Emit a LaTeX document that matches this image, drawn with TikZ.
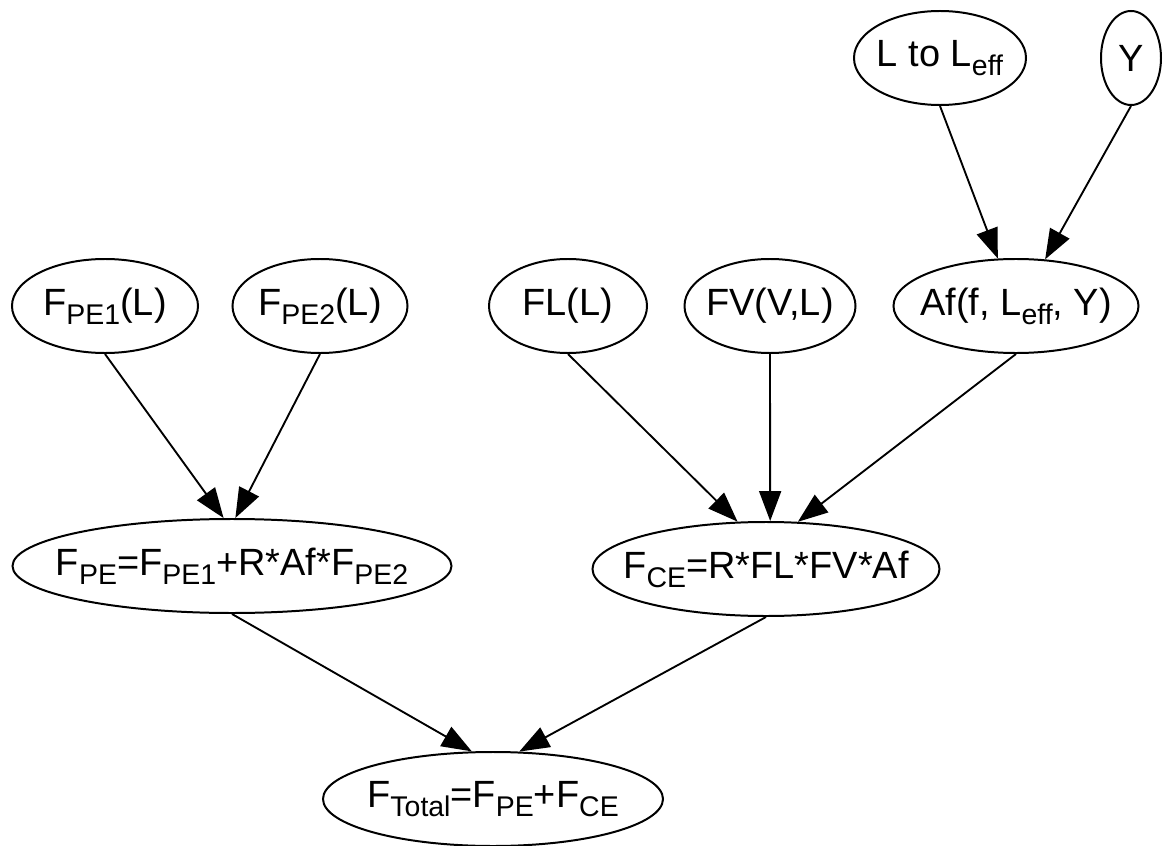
\documentclass[tikz,border=0pt]{standalone}
\usepackage{fontspec}
\setmainfont{Liberation Sans}
\usetikzlibrary{arrows.meta,shapes.geometric}

\newcommand{\dn}[1]{\raisebox{-0.24em}{\fontsize{24.3pt}{26pt}\selectfont #1}}

\begin{document}
\begin{tikzpicture}[x=0.03cm,y=-0.03cm,
  blob/.style={draw,ellipse,line width=1.7pt,inner xsep=-1.5cm,inner ysep=0pt,
    minimum height=2.82cm,font=\fontsize{32.4pt}{38pt}\selectfont},
  link/.style={line width=1.6pt,-{Triangle[length=0.9cm,width=0.66cm]}}]
  \path[fill=white,use as bounding box] (0,0) rectangle (1163,846);
  % top inputs
  \node[blob,minimum width=5.16cm] (leff) at (940,58) {L to L\dn{eff}};
  \node[blob,minimum width=1.8cm] (yy) at (1131,58) {Y};
  % middle row
  \node[blob,minimum width=5.58cm] (pe1) at (105,306) {F\dn{PE1}(L)};
  \node[blob,minimum width=5.25cm] (pe2) at (320,306) {F\dn{PE2}(L)};
  \node[blob,minimum width=4.74cm] (fl) at (568,306) {FL(L)};
  \node[blob,minimum width=5.13cm] (fv) at (770,306) {FV(V,L)};
  \node[blob,minimum width=7.35cm] (af) at (1016,306) {Af(f, L\dn{eff}, Y)};
  % sums
  \node[blob,minimum width=13.17cm] (pe) at (232,566) {F\dn{PE}=F\dn{PE1}+R*Af*F\dn{PE2}};
  \node[blob,minimum width=10.41cm] (ce) at (766,569) {F\dn{CE}=R*FL*FV*Af};
  \node[blob,minimum width=10.2cm] (tot) at (493,799) {F\dn{Total}=F\dn{PE}+F\dn{CE}};

  \draw[link] (leff.south) -- (af.111);
  \draw[link] (yy.south) -- (af.58);
  \draw[link] (pe1.south) -- (pe.100);
  \draw[link] (pe2.south) -- (pe.86);
  \draw[link] (fl.south) -- (ce.121);
  \draw[link] (fv.south) -- (ce.85);
  \draw[link] (af.south) -- (ce.56);
  \draw[link] (pe.south) -- (tot.114);
  \draw[link] (ce.south) -- (tot.61);
\end{tikzpicture}
\end{document}
